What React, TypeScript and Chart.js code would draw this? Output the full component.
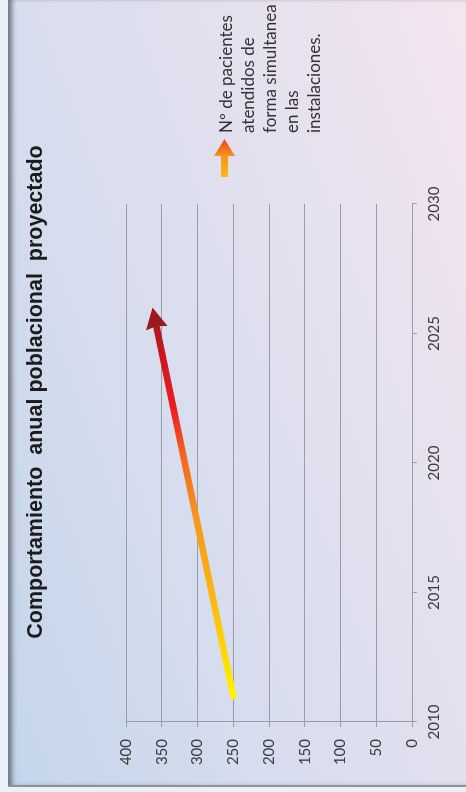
import React, { useEffect, useRef } from "react";
import { Chart, registerables } from "chart.js";

Chart.register(...registerables);

const TITLE = "Comportamiento  anual poblacional  proyectado";
const YEARS = [2011, 2026];
const PATIENTS = [250, 363];
const X_TICKS = [2010, 2015, 2020, 2025, 2030];
const Y_TICKS = [0, 50, 100, 150, 200, 250, 300, 350, 400];
const LEGEND_LINES = [
  "Nº de pacientes",
  "atendidos de",
  "forma simultanea",
  "en las",
  "instalaciones.",
];

const W = 792;
const H = 466;
const GRID = "#9a9ea4";
const TEXT = "#3c3c3c";
const HEAD_LEN = 21;
const HEAD_HALF = 11;

const ptPixels = (chart: any) => {
  const xs = chart.scales.x;
  const ys = chart.scales.y;
  return YEARS.map((yr, i) => ({
    x: xs.getPixelForValue(yr),
    y: ys.getPixelForValue(PATIENTS[i]),
  }));
};

const decor = {
  id: "decor",
  beforeDatasetsDraw(chart: any) {
    const ctx = chart.ctx;
    const p = ptPixels(chart);
    const t = p[p.length - 1];
    const s = p[p.length - 2];
    const L = Math.hypot(t.x - s.x, t.y - s.y);
    const ux = (t.x - s.x) / L;
    const uy = (t.y - s.y) / L;
    const nx = -uy;
    const ny = ux;
    const bx = t.x - ux * (HEAD_LEN - 4);
    const by = t.y - uy * (HEAD_LEN - 4);
    ctx.save();
    ctx.beginPath();
    ctx.moveTo(bx + nx * 3000, by + ny * 3000);
    ctx.lineTo(bx - nx * 3000, by - ny * 3000);
    ctx.lineTo(bx - nx * 3000 - ux * 6000, by - ny * 3000 - uy * 6000);
    ctx.lineTo(bx + nx * 3000 - ux * 6000, by + ny * 3000 - uy * 6000);
    ctx.closePath();
    ctx.clip();
  },
  afterDatasetsDraw(chart: any) {
    const ctx = chart.ctx;
    ctx.restore();
    const p = ptPixels(chart);
    const t = p[p.length - 1];
    const s = p[p.length - 2];
    const L = Math.hypot(t.x - s.x, t.y - s.y);
    const ux = (t.x - s.x) / L;
    const uy = (t.y - s.y) / L;
    const nx = -uy;
    const ny = ux;
    const bx = t.x - ux * HEAD_LEN;
    const by = t.y - uy * HEAD_LEN;
    ctx.save();
    ctx.beginPath();
    ctx.moveTo(t.x, t.y);
    ctx.lineTo(bx + nx * HEAD_HALF, by + ny * HEAD_HALF);
    ctx.lineTo(bx + ux * 2, by + uy * 2);
    ctx.lineTo(bx - nx * HEAD_HALF, by - ny * HEAD_HALF);
    ctx.closePath();
    ctx.fillStyle = "#9c1a1f";
    ctx.fill();
    ctx.restore();
  },
  afterDraw(chart: any) {
    const ctx = chart.ctx;
    ctx.save();
    // title
    ctx.font = 'bold 21.5px "Liberation Sans", Arial, sans-serif';
    ctx.fillStyle = "#1c1c1c";
    ctx.textAlign = "center";
    ctx.textBaseline = "alphabetic";
    ctx.fillText(TITLE, 400, 42.3);

    // legend marker: arrow pointing right
    const ax0 = 615;
    const ax1 = 636;
    const ax2 = 653;
    const ay = 224.5;
    const g = ctx.createLinearGradient(ax0, 0, ax2, 0);
    g.addColorStop(0, "#fdb913");
    g.addColorStop(0.55, "#f7941d");
    g.addColorStop(1, "#ef4123");
    ctx.beginPath();
    ctx.moveTo(ax0, ay - 3.5);
    ctx.lineTo(ax1, ay - 3.5);
    ctx.lineTo(ax1, ay - 10.5);
    ctx.lineTo(ax2, ay);
    ctx.lineTo(ax1, ay + 10.5);
    ctx.lineTo(ax1, ay + 3.5);
    ctx.lineTo(ax0, ay + 3.5);
    ctx.closePath();
    ctx.fillStyle = g;
    ctx.fill();

    // legend text
    ctx.font = '17px Lato, "Open Sans", sans-serif';
    ctx.fillStyle = "#333333";
    ctx.textAlign = "left";
    ctx.textBaseline = "middle";
    LEGEND_LINES.forEach((line, i) => {
      ctx.fillText(line, 659, 227 + i * 22);
    });
    ctx.restore();
  },
};

export default function App() {
  const ref = useRef<HTMLCanvasElement | null>(null);

  useEffect(() => {
    if (!ref.current) return;
    const chart = new Chart(ref.current, {
      type: "line",
      data: {
        datasets: [
          {
            label: LEGEND_LINES.join(" "),
            data: YEARS.map((x, i) => ({ x, y: PATIENTS[i] })),
            borderWidth: 6.5,
            pointRadius: 0,
            pointHoverRadius: 0,
            borderCapStyle: "round",
            tension: 0,
            borderColor: (c: any) => {
              const ch = c.chart;
              if (!ch.chartArea) return "#f7941d";
              const p = ptPixels(ch);
              const a = p[0];
              const b = p[p.length - 1];
              const gr = ch.ctx.createLinearGradient(a.x, a.y, b.x, b.y);
              gr.addColorStop(0, "#fff200");
              gr.addColorStop(0.25, "#fdb813");
              gr.addColorStop(0.47, "#f7941d");
              gr.addColorStop(0.62, "#f26522");
              gr.addColorStop(0.74, "#ed1c24");
              gr.addColorStop(0.9, "#c4161c");
              gr.addColorStop(1, "#9c1a1f");
              return gr;
            },
          },
        ],
      },
      options: {
        responsive: false,
        animation: false,
        devicePixelRatio: 1,
        events: [],
        layout: { padding: { left: 0, top: 126, right: 204, bottom: 0 } },
        plugins: {
          legend: { display: false },
          title: { display: false },
          tooltip: { enabled: false },
        },
        scales: {
          x: {
            type: "linear",
            min: 2010,
            max: 2030,
            position: "bottom",
            afterBuildTicks: (s: any) => {
              s.ticks = X_TICKS.map((v) => ({ value: v }));
            },
            afterFit: (s: any) => {
              s.height = 54;
            },
            grid: {
              display: true,
              drawOnChartArea: false,
              drawTicks: true,
              tickLength: 5,
              color: GRID,
              lineWidth: 1,
            },
            border: { display: true, color: GRID, width: 1 },
            ticks: {
              padding: 8,
              color: TEXT,
              maxRotation: 0,
              autoSkip: false,
              font: { family: "Lato", size: 15 },
              callback: (v: any) => String(v),
            },
          },
          y: {
            type: "linear",
            min: 0,
            max: 400,
            afterBuildTicks: (s: any) => {
              s.ticks = Y_TICKS.map((v) => ({ value: v }));
            },
            afterFit: (s: any) => {
              s.width = 70;
            },
            grid: {
              display: true,
              drawTicks: true,
              tickLength: 5,
              color: GRID,
              lineWidth: 1,
            },
            border: { display: true, color: GRID, width: 1 },
            ticks: {
              padding: 12,
              color: TEXT,
              font: { family: "Lato", size: 15 },
              callback: (v: any) => String(v),
            },
          },
        },
      },
      plugins: [decor],
    });
    return () => chart.destroy();
  }, []);

  return (
    <div
      style={{
        position: "fixed",
        left: 0,
        top: 0,
        width: H,
        height: W,
        overflow: "hidden",
        background: "#eaf0f8",
      }}
    >
      <div
        style={{
          position: "absolute",
          left: 0,
          top: 0,
          width: W,
          height: H,
          transformOrigin: "0 0",
          transform: `translateY(${W}px) rotate(-90deg)`,
          background: "#eaf0f8",
        }}
      >
        <div
          style={{
            position: "absolute",
            left: 5,
            top: 8,
            width: W - 5,
            height: H - 8,
            background:
              "linear-gradient(160deg, #c4d5eb 0%, #d6ddee 35%, #e3e0ef 65%, #f5e5f0 100%)",
            borderLeft: "2px solid #8e9298",
            boxSizing: "border-box",
            boxShadow: "inset 0 6px 5px -2px rgba(80,86,96,0.75)",
          }}
        />
        <canvas
          ref={ref}
          width={W}
          height={H}
          style={{ position: "absolute", left: 0, top: 0, width: W, height: H }}
        />
      </div>
    </div>
  );
}
